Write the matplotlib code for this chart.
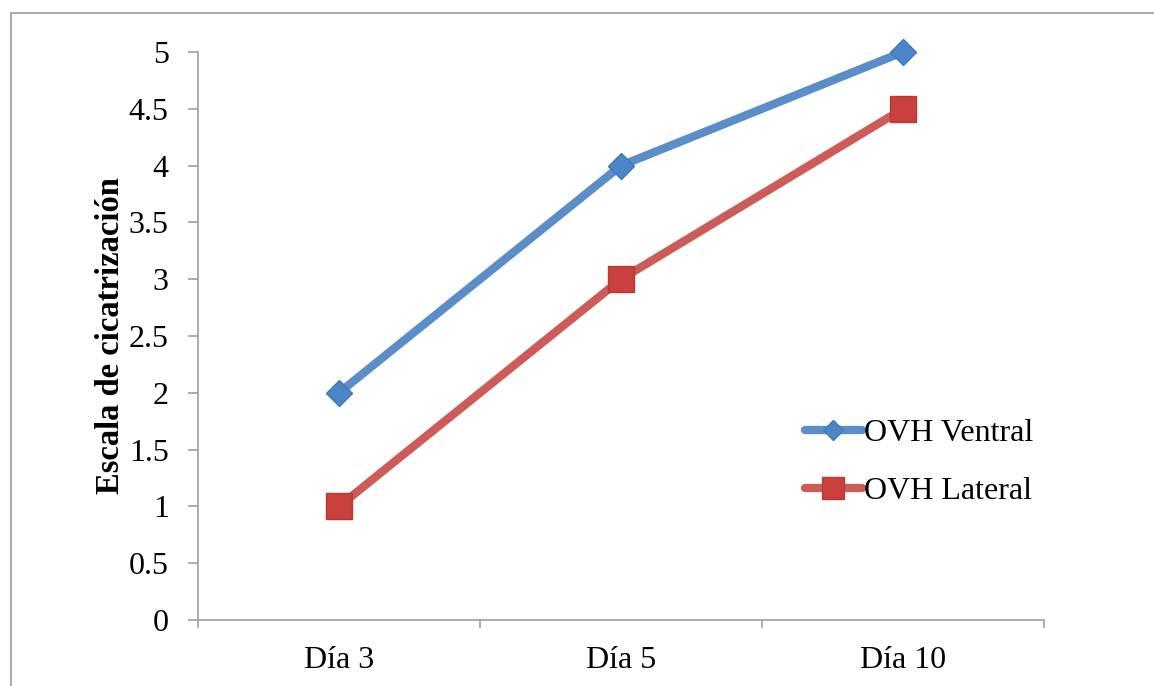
import matplotlib
matplotlib.use('Agg')
import matplotlib.pyplot as plt
from matplotlib.patches import Rectangle

dias = ['Día 3', 'Día 5', 'Día 10']
ventral = [2, 4, 5]
lateral = [1, 3, 4.5]
yticks = [0, 0.5, 1, 1.5, 2, 2.5, 3, 3.5, 4, 4.5, 5]

plt.rcParams['font.family'] = ['Liberation Serif', 'DejaVu Serif']

fig = plt.figure(figsize=(11.54, 6.86), dpi=100)
ax = fig.add_axes([198/1154, 1-620/686, 846/1154, 568/686])

# borde gris del grafico
fig.patches.append(Rectangle((11/1154, -0.2), 1.5, 1.2 - 13/686,
                             transform=fig.transFigure, fill=False,
                             edgecolor='#A6A6A6', linewidth=1.3))

x = list(range(len(dias)))
ax.plot(x, ventral, color='#5B8DC8', lw=6, marker='D', ms=13,
        markerfacecolor='#4A86C8', markeredgecolor='#3F78B5', markeredgewidth=1,
        label='OVH Ventral', solid_capstyle='round', clip_on=False)
ax.plot(x, lateral, color='#CD5C59', lw=6, marker='s', ms=19,
        markerfacecolor='#C9403C', markeredgecolor='#B73A36', markeredgewidth=1,
        label='OVH Lateral', solid_capstyle='round', clip_on=False)

ax.set_xlim(-0.5, 2.5)
ax.set_ylim(0, 5)
ax.set_yticks(yticks)
ax.set_yticklabels([f'{v:g}' for v in yticks])
ax.set_xticks(x)
ax.set_xticklabels(dias)
ax.set_xticks([-0.5, 0.5, 1.5, 2.5], minor=True)

for s in ['top', 'right']:
    ax.spines[s].set_visible(False)
for s in ['left', 'bottom']:
    ax.spines[s].set_color('#A6A6A6')
    ax.spines[s].set_linewidth(1.3)

ax.tick_params(axis='y', which='major', labelsize=23, length=7, width=1.3,
               color='#A6A6A6', pad=14)
ax.tick_params(axis='x', which='major', labelsize=23, length=0, pad=19)
ax.tick_params(axis='x', which='minor', length=6, width=1.3, color='#A6A6A6')

ax.set_ylabel('Escala de cicatrización', fontsize=23.5, fontweight='bold', va='center')
ax.yaxis.set_label_coords(-0.104, 0.5)

ax.legend(loc='center left', bbox_to_anchor=(0.717, 0.277), frameon=False,
          fontsize=23, handlelength=1.8, handletextpad=0.05, labelspacing=0.9,
          markerscale=0.8, borderpad=0, borderaxespad=0)

plt.savefig('out.png', dpi=100)
